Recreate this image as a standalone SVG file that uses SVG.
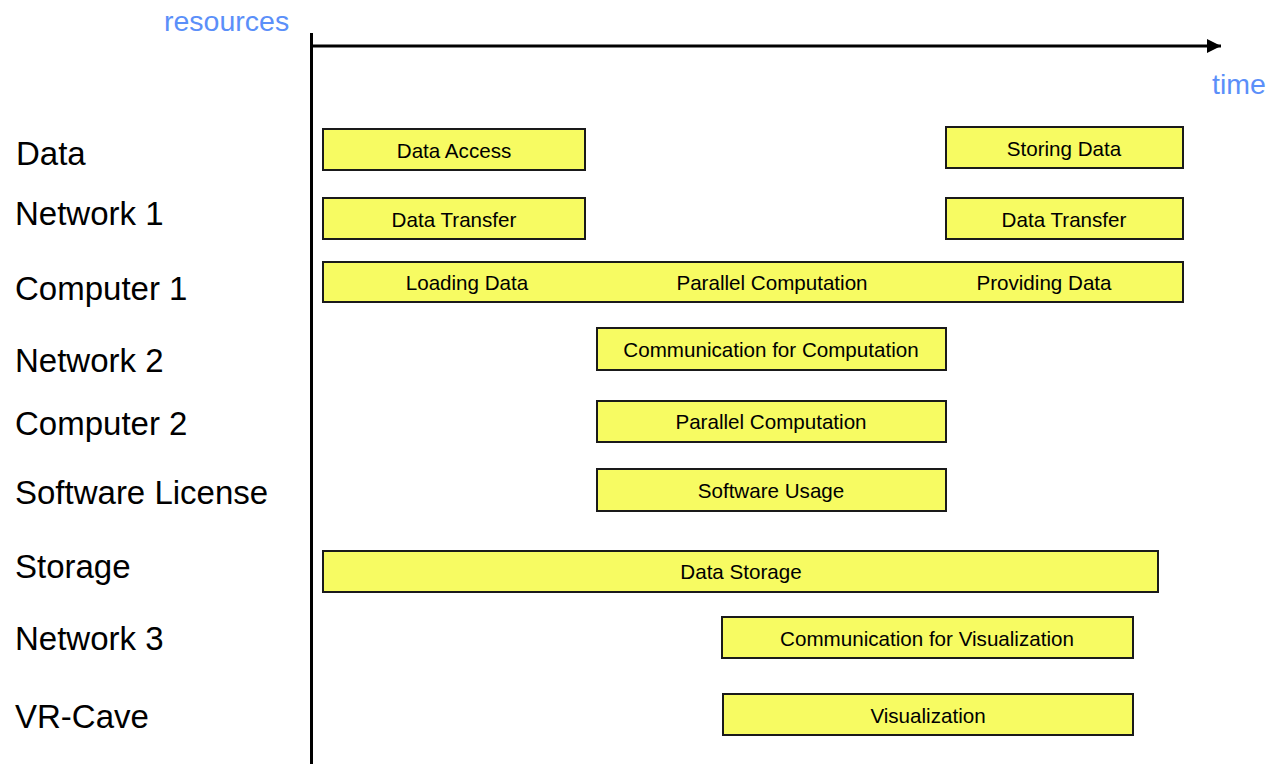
<svg xmlns="http://www.w3.org/2000/svg" width="1272" height="764" viewBox="0 0 1272 764">
<style>
.bar{fill:#f7fb62;stroke:#1a1a1a;stroke-width:2}
.bt{font-family:"Liberation Sans",Arial,sans-serif;font-size:20.6px;fill:#000;text-anchor:middle}
.lbl{font-family:"Liberation Sans",Arial,sans-serif;font-size:33px;fill:#000}
.ax{font-family:"Liberation Sans",Arial,sans-serif;font-size:28.5px;fill:#5b8ff9}
.axis{stroke:#000;stroke-width:3;fill:none}
</style>
<defs>
<marker id="arr" markerWidth="14" markerHeight="14" refX="14" refY="7" orient="auto" markerUnits="userSpaceOnUse" viewBox="0 0 14 14">
<path d="M0,0 L14,7 L0,14 z" fill="#000"/>
</marker>
</defs>
<rect width="1272" height="764" fill="#fff"/>
<g id="axes">
<line class="axis" x1="311.5" y1="33" x2="311.5" y2="764"/>
<line class="axis" x1="310" y1="46" x2="1221" y2="46" marker-end="url(#arr)"/>
<text class="ax" x="164" y="31">resources</text>
<text class="ax" x="1212" y="94">time</text>
</g>
<g id="labels">
<text class="lbl" x="16" y="165">Data</text>
<text class="lbl" x="15" y="225">Network 1</text>
<text class="lbl" x="15" y="300">Computer 1</text>
<text class="lbl" x="15" y="372">Network 2</text>
<text class="lbl" x="15" y="435">Computer 2</text>
<text class="lbl" x="15" y="504">Software License</text>
<text class="lbl" x="15" y="578">Storage</text>
<text class="lbl" x="15" y="650">Network 3</text>
<text class="lbl" x="15" y="728">VR-Cave</text>
</g>
<g id="data-access"><rect class="bar" x="323" y="129" width="262" height="41"/><text class="bt" x="454" y="158">Data Access</text></g>
<g id="storing-data"><rect class="bar" x="946" y="127" width="237" height="41"/><text class="bt" x="1064" y="156">Storing Data</text></g>
<g id="data-transfer-1"><rect class="bar" x="323" y="198" width="262" height="41"/><text class="bt" x="454" y="227">Data Transfer</text></g>
<g id="data-transfer-2"><rect class="bar" x="946" y="198" width="237" height="41"/><text class="bt" x="1064" y="227">Data Transfer</text></g>
<g id="computer1"><rect class="bar" x="323" y="262" width="860" height="40"/>
<text class="bt" x="467" y="290">Loading Data</text>
<text class="bt" x="772" y="290">Parallel Computation</text>
<text class="bt" x="1044" y="290">Providing Data</text></g>
<g id="comm-computation"><rect class="bar" x="597" y="328" width="349" height="42"/><text class="bt" x="771" y="357">Communication for Computation</text></g>
<g id="parallel-computation-2"><rect class="bar" x="597" y="401" width="349" height="41"/><text class="bt" x="771" y="429">Parallel Computation</text></g>
<g id="software-usage"><rect class="bar" x="597" y="469" width="349" height="42"/><text class="bt" x="771" y="498">Software Usage</text></g>
<g id="data-storage"><rect class="bar" x="323" y="551" width="835" height="41"/><text class="bt" x="741" y="579">Data Storage</text></g>
<g id="comm-visualization"><rect class="bar" x="722" y="617" width="411" height="41"/><text class="bt" x="927" y="646">Communication for Visualization</text></g>
<g id="visualization"><rect class="bar" x="723" y="694" width="410" height="41"/><text class="bt" x="928" y="723">Visualization</text></g>
</svg>
